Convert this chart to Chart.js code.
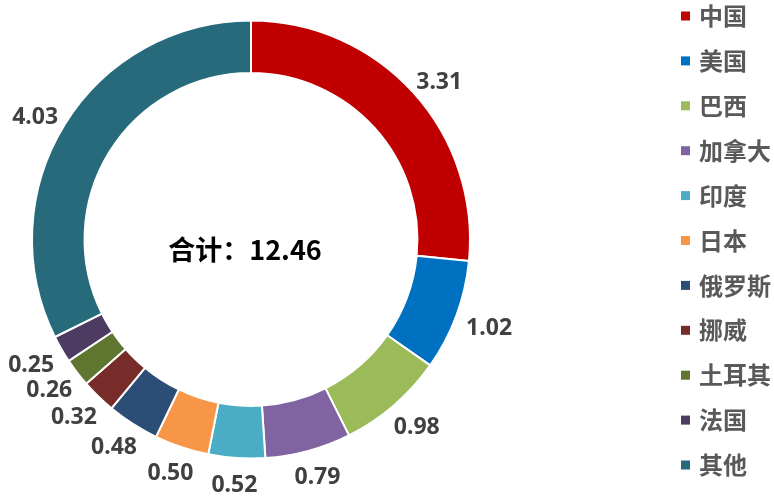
<!DOCTYPE html>
<html>
<head>
<meta charset="utf-8">
<script src="https://cdn.jsdelivr.net/npm/chart.js@4"></script>
<style>
html,body{margin:0;padding:0;background:#fff;}
#wrap{width:774px;height:497px;position:relative;}
</style>
</head>
<body>
<div id="wrap"><canvas id="c" width="774" height="497"></canvas></div>
<script>
const countries = ['中国','美国','巴西','加拿大','印度','日本','俄罗斯','挪威','土耳其','法国','其他'];
const values = [3.31, 1.02, 0.98, 0.79, 0.52, 0.50, 0.48, 0.32, 0.26, 0.25, 4.03];
const colors = ['#C00000','#0070C0','#9BBB59','#8064A2','#4BACC6','#F79646','#2C4D75','#772C2A','#5F7530','#4D3B62','#276A7C'];
const centerPrefix = '合计：';

const labelPlugin = {
  id: 'outerLabels',
  afterDatasetsDraw(chart) {
    const ctx = chart.ctx;
    const meta = chart.getDatasetMeta(0);
    ctx.save();
    ctx.font = 'bold 23px "Noto Sans", "DejaVu Sans", sans-serif';
    ctx.fillStyle = '#404040';
    ctx.textAlign = 'center';
    ctx.textBaseline = 'middle';
    meta.data.forEach((arc, i) => {
      const p = arc.getProps(['x','y','startAngle','endAngle','outerRadius'], true);
      const mid = (p.startAngle + p.endAngle) / 2;
      const txt = values[i].toFixed(2);
      const hw = ctx.measureText(txt).width / 2;
      const hh = 10;
      const ux = Math.cos(mid), uy = Math.sin(mid);
      const r = p.outerRadius + 12;
      ctx.fillText(txt, p.x + ux * (r + hw), p.y + uy * (r + hh) + 5);
    });
    // center text
    const a = meta.data[0];
    const total = values.reduce((s, v) => s + v, 0);
    ctx.font = 'bold 27px "Noto Sans CJK SC", sans-serif';
    ctx.fillStyle = '#000000';
    ctx.fillText(centerPrefix + total.toFixed(2), a.x - 6, a.y + 10);
    ctx.restore();
  },
  afterDraw(chart) {
    const ctx = chart.ctx;
    const items = chart.options.plugins.legend.labels.generateLabels(chart);
    ctx.save();
    ctx.font = 'bold 24px "Noto Sans CJK SC", sans-serif';
    ctx.textAlign = 'left';
    ctx.textBaseline = 'middle';
    items.forEach((it, i) => {
      const cy = 16 + i * 44.9;
      ctx.fillStyle = it.fillStyle;
      ctx.fillRect(681, cy - 4.5, 9, 9);
      ctx.fillStyle = '#595959';
      ctx.fillText(it.text, 699, cy);
    });
    ctx.restore();
  }
};

new Chart(document.getElementById('c'), {
  type: 'doughnut',
  data: {
    labels: countries,
    datasets: [{
      data: values,
      backgroundColor: colors,
      borderColor: '#ffffff',
      borderWidth: 2
    }]
  },
  options: {
    responsive: false,
    animation: false,
    cutout: '76%',
    layout: { padding: { left: 31, right: 303, top: 19, bottom: 37 } },
    plugins: {
      legend: { display: false },
      tooltip: { enabled: false }
    }
  },
  plugins: [labelPlugin]
});
</script>
</body>
</html>
